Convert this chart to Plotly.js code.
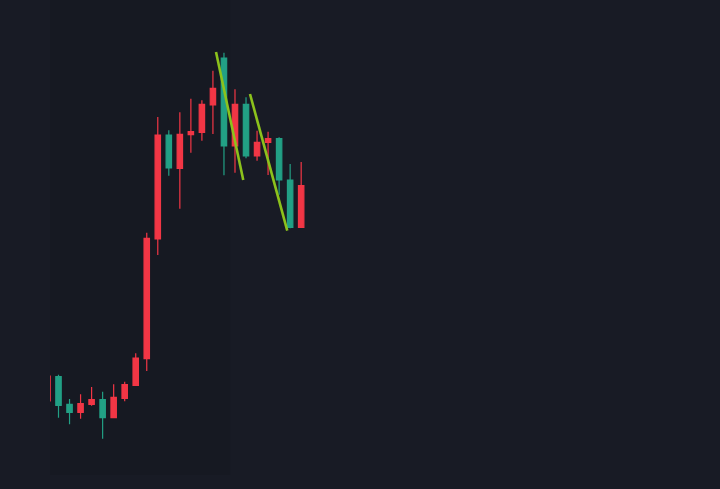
<!DOCTYPE html>
<html>
<head>
<meta charset="utf-8">
<script src="https://cdn.plot.ly/plotly-3.0.1.min.js"></script>
<style>
html,body{margin:0;padding:0;background:#181b25;}
#chart{width:720px;height:489px;}
</style>
</head>
<body>
<div id="chart"></div>
<script>
// Bar index (time) for each candle
var bars = [0,1,2,3,4,5,6,7,8,9,10,11,12,13,14,15,16,17,18,19,20,21,22,23];
var openP  = [57.4,59.83,57.07,56.27,57.07,57.53,55.73,57.67,58.97,61.63,73.6,84.0,80.67,84.03,84.27,87.0,91.7,82.9,87.07,81.9,83.27,83.63,79.5,74.77];
var highP  = [59.9,60.03,57.6,58.07,58.8,58.33,59.07,59.33,62.17,74.23,85.8,84.47,86.27,87.63,87.47,90.43,92.23,88.57,87.77,84.43,84.33,83.77,81.1,81.3];
var lowP   = [57.4,55.73,55.07,55.63,56.93,53.63,55.7,57.37,58.9,60.4,72.0,79.93,76.63,82.23,83.43,84.1,79.97,80.23,81.67,81.43,80.0,78.03,74.67,74.77];
var closeP = [59.9,56.97,56.27,57.13,57.53,55.73,57.77,59.03,61.7,73.67,84.0,80.7,84.07,84.33,87.07,88.67,82.9,87.07,81.9,83.27,83.63,79.5,74.77,78.93];

// Two drawn trend lines (bar position, price)
var line1X = [15.28, 17.75];
var line1Y = [92.3, 79.5];
var line2X = [18.36, 21.74];
var line2Y = [88.1, 74.43];

// Highlighted range (bar positions)
var zoneStart = 0.229;
var zoneEnd = 16.55;

var UP = '#f23645';
var DOWN = '#22a085';
var LINE = '#8cc21c';

var traces = [
  {
    type: 'candlestick',
    x: bars, open: openP, high: highP, low: lowP, close: closeP,
    increasing: {line: {color: UP, width: 1.2}, fillcolor: UP},
    decreasing: {line: {color: DOWN, width: 1.2}, fillcolor: DOWN},
    whiskerwidth: 0,
    hoverinfo: 'skip',
    showlegend: false
  },
  {
    type: 'scatter', mode: 'lines', x: line1X, y: line1Y,
    line: {color: LINE, width: 2.6}, hoverinfo: 'skip', showlegend: false
  },
  {
    type: 'scatter', mode: 'lines', x: line2X, y: line2Y,
    line: {color: LINE, width: 2.6}, hoverinfo: 'skip', showlegend: false
  }
];

var layout = {
  width: 720, height: 489,
  margin: {l: 50, r: 0, t: 0, b: 14, pad: 0},
  paper_bgcolor: '#181b25',
  plot_bgcolor: '#181b25',
  boxgap: 0.3,
  showlegend: false,
  xaxis: {
    range: [0.229, 60.97],
    showgrid: false, zeroline: false, showticklabels: false, showline: false, ticks: '',
    rangeslider: {visible: false}, fixedrange: true
  },
  yaxis: {
    range: [50, 97.5],
    showgrid: false, zeroline: false, showticklabels: false, showline: false, ticks: '',
    fixedrange: true
  },
  shapes: [
    {
      type: 'rect', layer: 'below',
      xref: 'x', yref: 'paper',
      x0: zoneStart, x1: zoneEnd, y0: 0, y1: 1,
      fillcolor: '#161922', line: {width: 0}
    }
  ]
};

Plotly.newPlot('chart', traces, layout, {staticPlot: true, displayModeBar: false});
</script>
</body>
</html>
